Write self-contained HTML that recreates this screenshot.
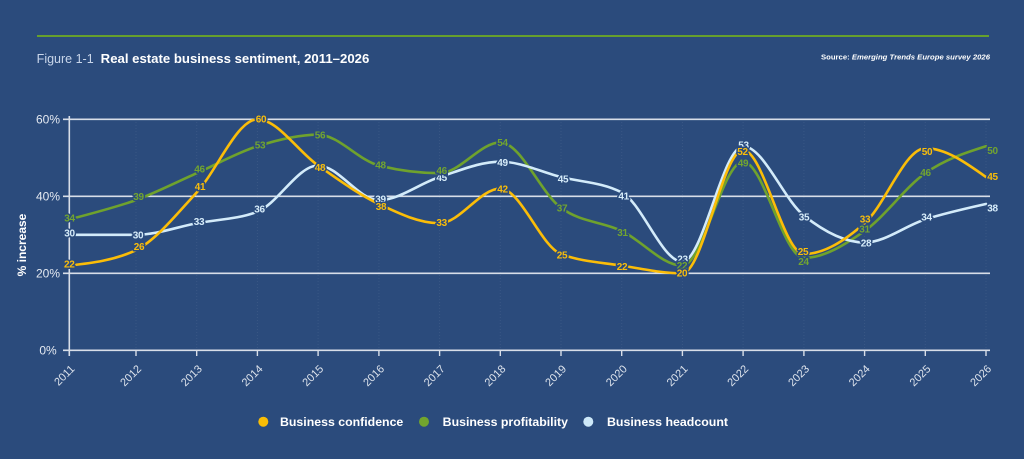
<!DOCTYPE html>
<html>
<head>
<meta charset="utf-8">
<style>
html,body{margin:0;padding:0;background:#2b4b7c;}
svg{display:block;}
text{font-family:"Liberation Sans",Arial,sans-serif;}
.lbl{font-size:10px;font-weight:bold;text-anchor:middle;paint-order:stroke fill;stroke:#2b4b7c;stroke-width:3px;stroke-linejoin:round;letter-spacing:-0.3px;}
.w{fill:#d6ecfa;}
.g{fill:#72a530;}
.y{fill:#f9bd0b;}
.yt{font-size:12px;fill:#e4e9f1;}
.xt{font-size:11px;fill:#dde3ec;text-anchor:end;}
</style>
</head>
<body>
<svg width="1024" height="459" viewBox="0 0 1024 459" xmlns="http://www.w3.org/2000/svg">
  <rect x="0" y="0" width="1024" height="459" fill="#2b4b7c"/>

  <!-- top rule -->
  <line x1="37" y1="36" x2="989" y2="36" stroke="#66a02c" stroke-width="2"/>

  <!-- title -->
  <text x="36.7" y="63" font-size="12.5" fill="#c9d6ea" textLength="57" lengthAdjust="spacingAndGlyphs">Figure 1-1</text>
  <text x="100.7" y="63" font-size="12.8" font-weight="bold" fill="#ffffff" textLength="268.6" lengthAdjust="spacingAndGlyphs">Real estate business sentiment, 2011–2026</text>

  <!-- source -->
  <text x="821" y="59.5" font-size="7.6" font-weight="bold" fill="#ffffff" textLength="169" lengthAdjust="spacingAndGlyphs">Source: <tspan font-style="italic">Emerging Trends Europe survey 2026</tspan></text>

  <!-- faint vertical gridlines -->
  <g stroke="#ffffff" stroke-opacity="0.07" stroke-width="1" stroke-dasharray="1 2">
    <line x1="136" y1="119" x2="136" y2="350"/>
    <line x1="196.7" y1="119" x2="196.7" y2="350"/>
    <line x1="257.4" y1="119" x2="257.4" y2="350"/>
    <line x1="318.1" y1="119" x2="318.1" y2="350"/>
    <line x1="378.9" y1="119" x2="378.9" y2="350"/>
    <line x1="439.6" y1="119" x2="439.6" y2="350"/>
    <line x1="500.3" y1="119" x2="500.3" y2="350"/>
    <line x1="561" y1="119" x2="561" y2="350"/>
    <line x1="621.7" y1="119" x2="621.7" y2="350"/>
    <line x1="682.4" y1="119" x2="682.4" y2="350"/>
    <line x1="743.1" y1="119" x2="743.1" y2="350"/>
    <line x1="803.9" y1="119" x2="803.9" y2="350"/>
    <line x1="864.6" y1="119" x2="864.6" y2="350"/>
    <line x1="925.3" y1="119" x2="925.3" y2="350"/>
    <line x1="986" y1="119" x2="986" y2="350"/>
  </g>

  <!-- gridlines & axes -->
  <g stroke="#d8dee8" stroke-width="1.6">
    <line x1="63" y1="119.3" x2="990" y2="119.3"/>
    <line x1="63" y1="196.3" x2="990" y2="196.3"/>
    <line x1="63" y1="273.3" x2="990" y2="273.3"/>
    <line x1="63" y1="350.3" x2="990" y2="350.3"/>
    <line x1="69.3" y1="116" x2="69.3" y2="356"/>
  </g>
  <g stroke="#d8dee8" stroke-width="1.4">
    <line x1="136" y1="350" x2="136" y2="356"/>
    <line x1="196.7" y1="350" x2="196.7" y2="356"/>
    <line x1="257.4" y1="350" x2="257.4" y2="356"/>
    <line x1="318.1" y1="350" x2="318.1" y2="356"/>
    <line x1="378.9" y1="350" x2="378.9" y2="356"/>
    <line x1="439.6" y1="350" x2="439.6" y2="356"/>
    <line x1="500.3" y1="350" x2="500.3" y2="356"/>
    <line x1="561" y1="350" x2="561" y2="356"/>
    <line x1="621.7" y1="350" x2="621.7" y2="356"/>
    <line x1="682.4" y1="350" x2="682.4" y2="356"/>
    <line x1="743.1" y1="350" x2="743.1" y2="356"/>
    <line x1="803.9" y1="350" x2="803.9" y2="356"/>
    <line x1="864.6" y1="350" x2="864.6" y2="356"/>
    <line x1="925.3" y1="350" x2="925.3" y2="356"/>
    <line x1="986" y1="350" x2="986" y2="356"/>
  </g>

  <!-- y tick labels -->
  <text class="yt" x="48" y="123.5" text-anchor="middle">60%</text>
  <text class="yt" x="48" y="200.5" text-anchor="middle">40%</text>
  <text class="yt" x="48" y="277.5" text-anchor="middle">20%</text>
  <text class="yt" x="48" y="354.5" text-anchor="middle">0%</text>

  <!-- y axis title -->
  <text transform="translate(26,245) rotate(-90)" x="0" y="0" text-anchor="middle" font-size="12" font-weight="bold" fill="#ffffff">% increase</text>

  <!-- x tick labels -->
  <text class="xt" transform="translate(75.3,369.5) rotate(-45)">2011</text>
  <text class="xt" transform="translate(142,369.5) rotate(-45)">2012</text>
  <text class="xt" transform="translate(202.7,369.5) rotate(-45)">2013</text>
  <text class="xt" transform="translate(263.4,369.5) rotate(-45)">2014</text>
  <text class="xt" transform="translate(324.1,369.5) rotate(-45)">2015</text>
  <text class="xt" transform="translate(384.9,369.5) rotate(-45)">2016</text>
  <text class="xt" transform="translate(445.6,369.5) rotate(-45)">2017</text>
  <text class="xt" transform="translate(506.3,369.5) rotate(-45)">2018</text>
  <text class="xt" transform="translate(567,369.5) rotate(-45)">2019</text>
  <text class="xt" transform="translate(627.7,369.5) rotate(-45)">2020</text>
  <text class="xt" transform="translate(688.4,369.5) rotate(-45)">2021</text>
  <text class="xt" transform="translate(749.1,369.5) rotate(-45)">2022</text>
  <text class="xt" transform="translate(809.9,369.5) rotate(-45)">2023</text>
  <text class="xt" transform="translate(870.6,369.5) rotate(-45)">2024</text>
  <text class="xt" transform="translate(931.3,369.5) rotate(-45)">2025</text>
  <text class="xt" transform="translate(992,369.5) rotate(-45)">2026</text>

  <!-- series lines (x in px, y in % units) -->
  <g transform="matrix(1 0 0 -3.85 0 350.3)" fill="none" stroke-linecap="round" stroke-linejoin="round">
    <path vector-effect="non-scaling-stroke" stroke="#6fa22d" stroke-width="2.6" d="M69.3 34 C91.5 35.5 113.8 37 136 39 C156.2 41 176.5 43.67 196.7 46 C216.9 48.33 237.2 51.33 257.4 53 C277.6 54.67 297.9 56 318.1 56 C338.3 56 358.6 49.33 378.9 48 C399.1 46.67 419.4 46 439.6 46 C459.8 46 480.1 54 500.3 54 C520.5 54 540.8 40.83 561 37 C581.2 33.17 601.5 33.5 621.7 31 C641.9 28.5 662.2 22 682.4 22 C702.6 22 722.9 49 743.1 49 C763.3 49 783.6 24 803.9 24 C824.1 24 844.4 27.33 864.6 31 C884.8 34.67 905.1 42.33 925.3 46 C945.5 49.67 965.8 51.33 986 53"/>
    <path vector-effect="non-scaling-stroke" stroke="#d3ebfa" stroke-width="2.6" d="M69.3 30 C91.5 30 113.8 30 136 30 C156.2 30 176.5 32 196.7 33 C216.9 34 237.2 34 257.4 36 C277.6 38 297.9 48 318.1 48 C338.3 48 358.6 39 378.9 39 C399.1 39 419.4 43.33 439.6 45 C459.8 46.67 480.1 49 500.3 49 C520.5 49 540.8 46.33 561 45 C581.2 43.67 601.5 43.67 621.7 41 C641.9 38.33 662.2 23 682.4 23 C702.6 23 722.9 53 743.1 53 C763.3 53 783.6 39.17 803.9 35 C824.1 30.83 844.4 28 864.6 28 C884.8 28 905.1 32.33 925.3 34 C945.5 35.67 965.8 36.83 986 38"/>
    <path vector-effect="non-scaling-stroke" stroke="#fbbd08" stroke-width="2.6" d="M69.3 22 C91.5 22.67 113.8 23.33 136 26 C156.2 28.67 176.5 35.33 196.7 41 C216.9 46.67 237.2 60 257.4 60 C277.6 60 297.9 51.67 318.1 48 C338.3 44.33 358.6 40.5 378.9 38 C399.1 35.5 419.4 33 439.6 33 C459.8 33 480.1 42 500.3 42 C520.5 42 540.8 27 561 25 C581.2 23 601.5 22.83 621.7 22 C641.9 21.17 662.2 20 682.4 20 C702.6 20 722.9 52 743.1 52 C763.3 52 783.6 25 803.9 25 C824.1 25 844.4 28.42 864.6 33 C884.8 37.58 905.1 52.5 925.3 52.5 C945.5 52.5 965.8 48.75 986 45"/>
  </g>

  <!-- headcount labels -->
  <g class="lbl w">
    <text class="lbl w" x="69.5" y="236.7">30</text>
    <text class="lbl w" x="138" y="238.4">30</text>
    <text class="lbl w" x="199" y="225.1">33</text>
    <text class="lbl w" x="259.5" y="212.7">36</text>
    <text class="lbl w" x="320" y="171.1">48</text>
    <text class="lbl w" x="380.5" y="202.7">39</text>
    <text class="lbl w" x="441.6" y="181.1">45</text>
    <text class="lbl w" x="502.5" y="166.1">49</text>
    <text class="lbl w" x="563" y="182.4">45</text>
    <text class="lbl w" x="623.7" y="199.4">41</text>
    <text class="lbl w" x="682.5" y="262.7">23</text>
    <text class="lbl w" x="743.5" y="148.4">53</text>
    <text class="lbl w" x="804" y="220.7">35</text>
    <text class="lbl w" x="866" y="246.7">28</text>
    <text class="lbl w" x="926.5" y="220.7">34</text>
    <text class="lbl w" x="992.5" y="211.7">38</text>
  </g>

  <!-- profitability labels -->
  <g>
    <text class="lbl g" x="69.5" y="221.7">34</text>
    <text class="lbl g" x="138.5" y="200.1">39</text>
    <text class="lbl g" x="199.5" y="172.7">46</text>
    <text class="lbl g" x="260" y="148.4">53</text>
    <text class="lbl g" x="320" y="138.4">56</text>
    <text class="lbl g" x="380.5" y="168.4">48</text>
    <text class="lbl g" x="441.6" y="174.1">46</text>
    <text class="lbl g" x="502.5" y="146.1">54</text>
    <text class="lbl g" x="562" y="211.7">37</text>
    <text class="lbl g" x="622.5" y="236.1">31</text>
    <text class="lbl g" x="682" y="268.9">22</text>
    <text class="lbl g" x="743" y="166.7">49</text>
    <text class="lbl g" x="803.5" y="265.1">24</text>
    <text class="lbl g" x="864.5" y="232.7">31</text>
    <text class="lbl g" x="925.5" y="176.1">46</text>
    <text class="lbl g" x="992.5" y="154.1">50</text>
  </g>

  <!-- confidence labels -->
  <g>
    <text class="lbl y" x="69.3" y="267.7">22</text>
    <text class="lbl y" x="139" y="250.1">26</text>
    <text class="lbl y" x="200" y="190.1">41</text>
    <text class="lbl y" x="261" y="122.7">60</text>
    <text class="lbl y" x="320" y="171.1">48</text>
    <text class="lbl y" x="381" y="210.1">38</text>
    <text class="lbl y" x="441.6" y="226.1">33</text>
    <text class="lbl y" x="502.5" y="192.7">42</text>
    <text class="lbl y" x="562" y="258.4">25</text>
    <text class="lbl y" x="622" y="270.1">22</text>
    <text class="lbl y" x="682" y="276.7">20</text>
    <text class="lbl y" x="742.5" y="155.1">52</text>
    <text class="lbl y" x="803" y="255.1">25</text>
    <text class="lbl y" x="865" y="222.7">33</text>
    <text class="lbl y" x="927" y="155.1">50</text>
    <text class="lbl y" x="992.5" y="180.1">45</text>
  </g>

  <!-- legend -->
  <circle cx="263.3" cy="421.7" r="5" fill="#f9bd05"/>
  <text x="280" y="426" font-size="12.3" font-weight="bold" fill="#ffffff" textLength="123.3" lengthAdjust="spacingAndGlyphs">Business confidence</text>
  <circle cx="424" cy="421.7" r="5" fill="#72a52d"/>
  <text x="442.7" y="426" font-size="12.3" font-weight="bold" fill="#ffffff" textLength="125.3" lengthAdjust="spacingAndGlyphs">Business profitability</text>
  <circle cx="588.3" cy="421.7" r="5" fill="#cde8f8"/>
  <text x="607" y="426" font-size="12.3" font-weight="bold" fill="#ffffff" textLength="121" lengthAdjust="spacingAndGlyphs">Business headcount</text>
</svg>
</body>
</html>
